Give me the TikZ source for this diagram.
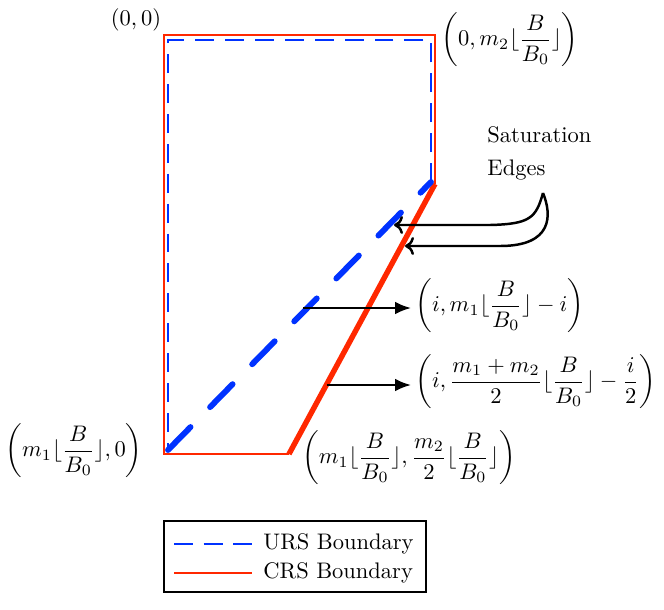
\documentclass[tikz,border=0pt]{standalone}
\usepackage{amsmath}
\usetikzlibrary{arrows.meta}
\definecolor{crsred}{RGB}{255,40,0}
\definecolor{ursblue}{RGB}{0,50,255}
\begin{document}
\begin{tikzpicture}[x=0.4444pt,y=-0.4444pt,
 redthin/.style={draw=crsred,line width=1.2pt},
 redthick/.style={draw=crsred,line width=2.4pt},
 bluethin/.style={draw=ursblue,line width=1.3pt,dash pattern=on 8.4pt off 4.9pt},
 bluethick/.style={draw=ursblue,line width=2.6pt,line cap=round,dash pattern=on 14.3pt off 12.4pt},
 lbl/.style={inner sep=0pt},
 ptr/.style={draw=black,line width=0.9pt,-{Latex[length=7pt,width=5.5pt]}},
 satarrow/.style={draw=black,line width=1.1pt,-{To[length=4pt,width=8pt]}},
 legendbox/.style={draw=black,line width=1.3pt},
]
\useasboundingbox (0,0) rectangle (664,609);

% red CRS boundary
\coordinate (TL) at (164,35);
\coordinate (TR) at (435,35);
\coordinate (MR) at (435,184);
\coordinate (BR) at (289,454);
\coordinate (BL) at (164,454);
\draw[redthin] (MR) -- (TR) -- (TL) -- (BL) -- (BR);
\draw[redthick] (BR) -- (MR);

% blue URS boundary
\coordinate (uTL) at (168,40);
\coordinate (uTR) at (431,40);
\coordinate (uMR) at (431,182);
\coordinate (uBL) at (168,450);
\draw[bluethin] (uMR) -- (uTR) -- (uTL) -- (uBL);
\draw[bluethick] (uBL) -- (uMR);

% labels
\node[lbl] (o) at (136,20) {$(0,0)$};
\node[lbl] (tr) at (510,40) {$\displaystyle\left(0, m_2\lfloor\frac{B}{B_0}\rfloor\right)$};
\node[lbl,anchor=west] (sat) at (487,135) {Saturation};
\node[lbl,anchor=west] (edg) at (487,170) {Edges};
\node[lbl,anchor=west] (l1) at (415,306) {$\displaystyle\left(i, m_1\lfloor\frac{B}{B_0}\rfloor - i\right)$};
\node[lbl,anchor=west] (l2) at (415,382) {$\displaystyle\left(i, \frac{m_1+m_2}{2}\lfloor\frac{B}{B_0}\rfloor - \frac{i}{2}\right)$};
\node[lbl] (bl) at (74,451) {$\displaystyle\left(m_1\lfloor\frac{B}{B_0}\rfloor, 0\right)$};
\node[lbl] (br) at (409,458) {$\displaystyle\left(m_1\lfloor\frac{B}{B_0}\rfloor, \frac{m_2}{2}\lfloor\frac{B}{B_0}\rfloor\right)$};

% pointer arrows
\coordinate (a1s) at (303,308);
\coordinate (a1e) at (411,308);
\coordinate (a2s) at (327,385);
\coordinate (a2e) at (411,385);
\draw[ptr] (a1s) -- (a1e);
\draw[ptr] (a2s) -- (a2e);

% saturation edge arrows
\coordinate (sTop) at (543,193);
\coordinate (s1e) at (394,225);
\coordinate (s2e) at (405,246);
\draw[satarrow] (sTop) .. controls (536,218) and (530,224) .. (490,225) -- (s1e);
\draw[satarrow] (sTop) .. controls (552,215) and (553,246) .. (500,246) -- (s2e);

% legend
\node[legendbox,minimum width=262*0.4444pt,minimum height=71*0.4444pt,inner sep=0pt] (leg) at (295,556.5) {};
\coordinate (lb1) at (174,544);
\coordinate (lb2) at (252,544);
\coordinate (lr1) at (174,573);
\coordinate (lr2) at (252,573);
\draw[draw=ursblue,line width=1.3pt,dash pattern=on 8.6pt off 4.6pt] (lb1) -- (lb2);
\draw[draw=crsred,line width=1.3pt] (lr1) -- (lr2);
\node[lbl,anchor=west] (t1) at (263,544) {URS Boundary};
\node[lbl,anchor=west] (t2) at (263,573) {CRS Boundary};
\end{tikzpicture}
\end{document}
